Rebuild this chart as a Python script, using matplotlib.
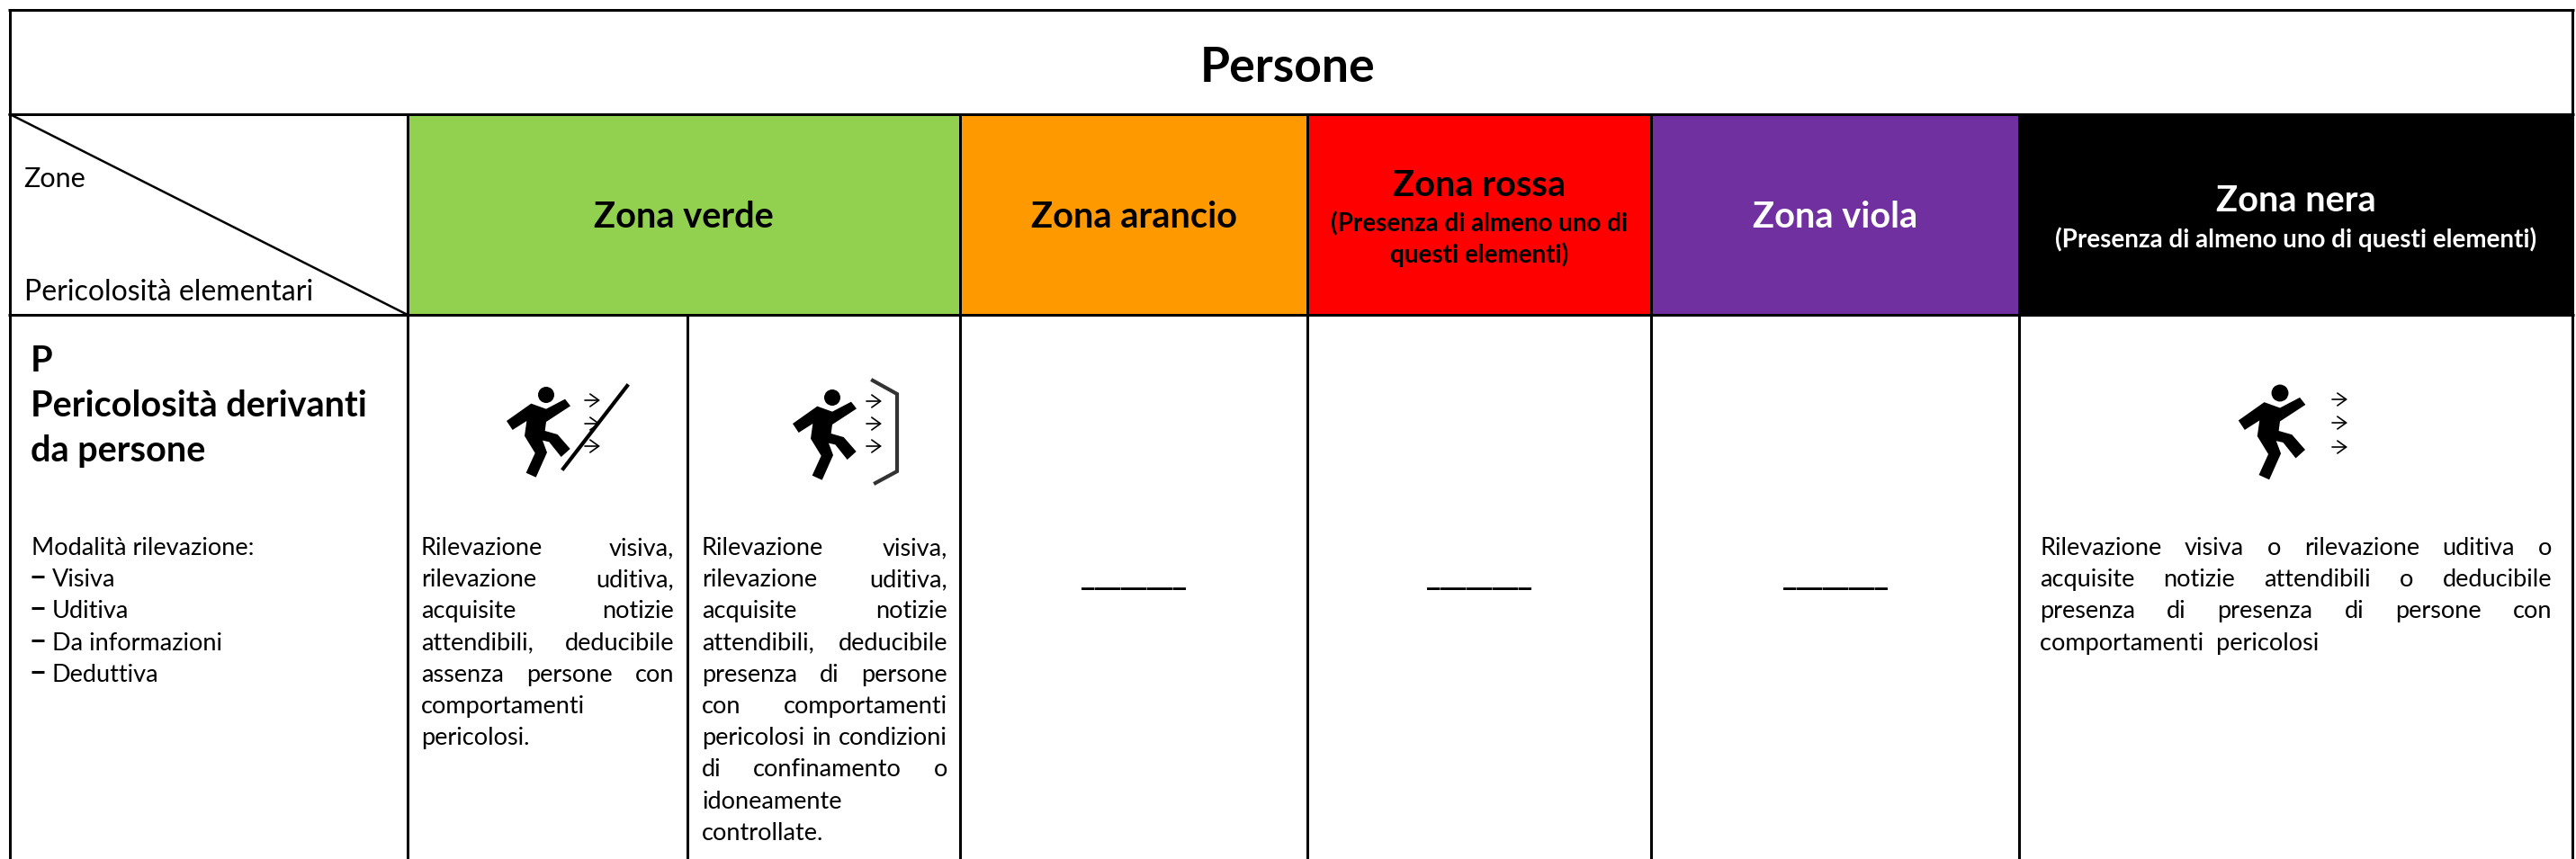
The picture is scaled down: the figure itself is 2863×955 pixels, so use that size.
import matplotlib
matplotlib.use("Agg")
import matplotlib.pyplot as plt
from matplotlib.patches import Polygon, Circle, Rectangle

plt.rcParams["font.family"] = ["Lato", "DejaVu Sans"]

# Table content
title = "Persone"
zone_names = ["Zona verde", "Zona arancio", "Zona rossa", "Zona viola", "Zona nera"]
zone_colors = ["#92D050", "#FF9900", "#FF0000", "#7030A0", "#000000"]
zone_text_colors = ["black", "black", "black", "white", "white"]
rossa_note = ["(Presenza di almeno uno di", "questi elementi)"]
nera_note = "(Presenza di almeno uno di questi elementi)"
modes = ["Visiva", "Uditiva", "Da informazioni", "Deduttiva"]

# text lines, True = justified line
verde_a = [("Rilevazione visiva,", True), ("rilevazione uditiva,", True),
           ("acquisite notizie", True), ("attendibili, deducibile", True),
           ("assenza persone con", True), ("comportamenti", False),
           ("pericolosi.", False)]
verde_b = [("Rilevazione visiva,", True), ("rilevazione uditiva,", True),
           ("acquisite notizie", True), ("attendibili, deducibile", True),
           ("presenza di persone", True), ("con comportamenti", True),
           ("pericolosi in condizioni", True), ("di confinamento o", True),
           ("idoneamente", False), ("controllate.", False)]
nera = [("Rilevazione visiva o rilevazione uditiva o", True),
        ("acquisite notizie attendibili o deducibile", True),
        ("presenza di presenza di persone con", True),
        ("comportamenti  pericolosi", False)]

# layout in pixels
W, H = 2863, 955
left, right = 11, 2859
row_top, row_1, row_2 = 11, 127, 350
col_edges = [453, 1067, 1453, 1835, 2244, right]
LINE = 35.2
BODY = 19.5
LW = 2.16

fig = plt.figure(figsize=(W / 100, H / 100), dpi=100)
ax = fig.add_axes([0, 0, 1, 1])
ax.set_xlim(0, W)
ax.set_ylim(H, 0)
ax.axis("off")

# zone header cells
for i in range(5):
    ax.add_patch(Rectangle((col_edges[i], row_1), col_edges[i + 1] - col_edges[i],
                           row_2 - row_1, color=zone_colors[i], lw=0))

# grid
for y in [row_top, row_1, row_2]:
    ax.plot([left - 2, right + 2], [y, y], color="black", lw=LW, solid_capstyle="butt")
for x in [left, right]:
    ax.plot([x, x], [row_top, H], color="black", lw=LW, solid_capstyle="butt")
for x in col_edges[:-1]:
    ax.plot([x, x], [row_1, H], color="black", lw=LW, solid_capstyle="butt")
ax.plot([764, 764], [row_2, H], color="black", lw=LW, solid_capstyle="butt")
ax.plot([left, col_edges[0]], [row_1, row_2], color="black", lw=1.8)

fig.canvas.draw()
renderer = fig.canvas.get_renderer()


def put_lines(lines, x0, x1, y0, size=BODY):
    # word by word so justified lines reach both edges
    for n, (line, justify) in enumerate(lines):
        y = y0 + n * LINE
        if not justify:
            ax.text(x0, y, line, fontsize=size, va="baseline", ha="left")
            continue
        words = line.split()
        items = [ax.text(0, y, w, fontsize=size, va="baseline", ha="left") for w in words]
        widths = [t.get_window_extent(renderer).width for t in items]
        gap = (x1 - x0 - sum(widths)) / (len(words) - 1)
        x = x0
        for t, w in zip(items, widths):
            t.set_x(x)
            x += w + gap


def person(cx, cy, s=1.0):
    # outline measured around the head centre
    body = [(-132, 87), (-50, 29), (0, 47), (63, 14), (81, 37), (0, 90), (-4, 120),
            (38, 132), (80, 180), (50, 207), (10, 157), (-12, 152), (3, 192),
            (-34, 275), (-67, 260), (-37, 194), (-72, 137), (-65, 87), (-112, 117)]
    pts = [(cx + s * a / 3, cy + s * b / 3) for a, b in body]
    ax.add_patch(Polygon(pts, closed=True, color="black", lw=0))
    ax.add_patch(Circle((cx, cy), s * 9, color="black", lw=0))


def arrows(x0, x1, ys):
    for y in ys:
        ax.annotate("", xy=(x1, y), xytext=(x0, y),
                    arrowprops=dict(arrowstyle="->,head_length=0.7,head_width=0.5",
                                    color="black", lw=1.2, shrinkA=0, shrinkB=0))


# title and header labels
ax.text(1431, 91, title, fontsize=38.5, fontweight="bold", ha="center", va="baseline")
ax.text(26, 208, "Zone", fontsize=22, va="baseline")
ax.text(27, 334, "Pericolosità elementari", fontsize=23, va="baseline")

centers = [(col_edges[i] + col_edges[i + 1]) / 2 for i in range(5)]
base = [253, 253, 218, 253, 235]
for i in range(5):
    ax.text(centers[i], base[i], zone_names[i], fontsize=28.6, fontweight="bold",
            color=zone_text_colors[i], ha="center", va="baseline")
ax.text(centers[2], 257, rossa_note[0], fontsize=20, fontweight="bold", ha="center", va="baseline")
ax.text(centers[2], 292, rossa_note[1], fontsize=20, fontweight="bold", ha="center", va="baseline")
ax.text(centers[4], 275, nera_note, fontsize=20, fontweight="bold", color="white",
        ha="center", va="baseline")

# left column
ax.text(34, 413, "P", fontsize=28.5, fontweight="bold", va="baseline")
ax.text(34, 463, "Pericolosità derivanti", fontsize=28.5, fontweight="bold", va="baseline")
ax.text(34, 513, "da persone", fontsize=28.5, fontweight="bold", va="baseline")
ax.text(35, 617, "Modalità rilevazione:", fontsize=BODY, va="baseline")
for n, m in enumerate(modes):
    y = 617 + (n + 1) * LINE
    ax.plot([35, 49], [y - 11, y - 11], color="black", lw=2.2, solid_capstyle="butt")
    ax.text(58, y, m, fontsize=BODY, va="baseline")

# icons
person(607, 439)
arrows(650, 667, [445, 471, 496])
ax.plot([626, 697], [521, 429], color="black", lw=3.0)

person(925, 442)
arrows(963, 980, [446, 471, 496])
ax.plot([970, 997, 997, 973], [423, 438, 524, 537], color="#333333", lw=3.0,
        solid_joinstyle="miter")

person(2534, 437, 1.05)
arrows(2592, 2609, [444, 470, 497])

# body text
put_lines(verde_a, 468, 749, 617)
put_lines(verde_b, 780, 1053, 617)
put_lines(nera, 2267, 2836, 617)

# DejaVu underscores join up into one solid rule, as in the reference
for c in [centers[1], centers[2], centers[3]]:
    ax.text(c, 649, "________", fontsize=20.9, family="DejaVu Sans", fontweight="bold",
            ha="center", va="baseline")

fig.savefig("out.png", dpi=100)
